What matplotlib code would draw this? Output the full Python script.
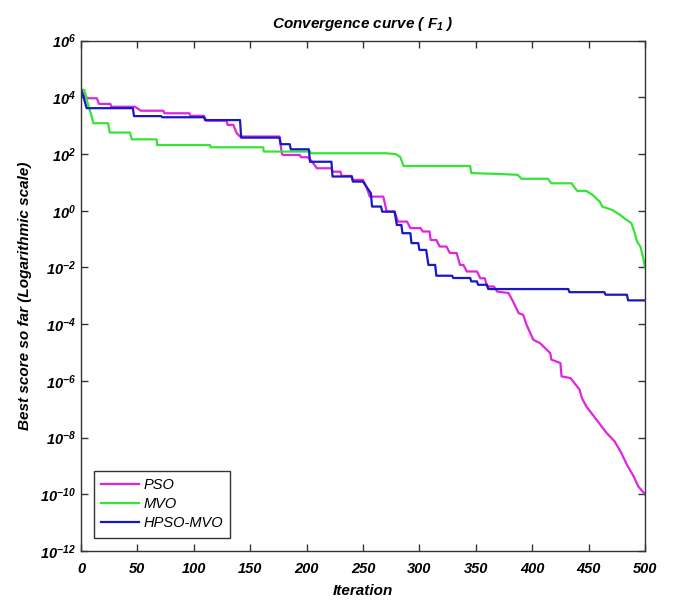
import matplotlib
matplotlib.use("Agg")
import matplotlib.pyplot as plt
import numpy as np
from matplotlib.ticker import FixedLocator, FuncFormatter, NullLocator

# ---------------- data (iteration, log10(best score)) ----------------
pso_iter = [0, 2, 4, 14, 16, 26, 27, 48, 53, 73, 74, 96, 97, 109, 111, 129, 130, 135,
            138, 141, 176, 178, 179, 194, 195, 201, 203, 207, 209, 222, 223, 230, 231,
            240, 241, 250, 253, 256, 268, 271, 278, 281, 289, 292, 301, 303, 309, 310,
            315, 318, 324, 327, 333, 336, 339, 342, 351, 354, 358, 360, 366, 369, 375,
            379, 383, 388, 392, 395, 401, 407, 416, 417, 425, 426, 434, 442, 444, 448,
            457, 466, 473, 479, 484, 490, 494, 500]
pso_log = [4.28, 4.10, 3.97, 3.97, 3.77, 3.77, 3.67, 3.67, 3.53, 3.53, 3.44, 3.44, 3.35,
           3.35, 3.18, 3.18, 3.03, 3.03, 2.74, 2.62, 2.62, 2.03, 1.97, 1.97, 1.89, 1.89,
           1.82, 1.62, 1.50, 1.50, 1.38, 1.38, 1.23, 1.23, 1.09, 1.09, 0.85, 0.50, 0.50,
           -0.03, -0.03, -0.38, -0.38, -0.61, -0.61, -0.73, -0.73, -1.03, -1.03, -1.26,
           -1.26, -1.49, -1.49, -1.91, -1.91, -2.14, -2.14, -2.38, -2.38, -2.67, -2.67,
           -2.85, -2.88, -2.90, -3.20, -3.61, -3.67, -4.02, -4.55, -4.67, -5.02, -5.25,
           -5.37, -5.84, -5.90, -6.31, -6.60, -6.90, -7.37, -7.84, -8.13, -8.54, -8.96,
           -9.37, -9.72, -10.0]

mvo_iter = [0, 3, 6, 9.5, 11, 24, 25.5, 43.5, 45, 67, 67.5, 114.5, 115, 161.5, 162, 203,
            204, 270, 279, 283, 286, 345, 346, 370, 387, 390.5, 414, 417, 435, 437, 440,
            448, 453.5, 460, 462, 471, 478, 483, 488, 491, 493, 496, 498, 500]
mvo_log = [4.28, 4.26, 3.79, 3.32, 3.09, 3.09, 2.76, 2.76, 2.52, 2.52, 2.32, 2.32, 2.24,
           2.24, 2.09, 2.09, 2.03, 2.03, 2.00, 1.90, 1.58, 1.58, 1.33, 1.30, 1.27, 1.13,
           1.13, 0.97, 0.97, 0.85, 0.70, 0.70, 0.56, 0.32, 0.15, 0.03, -0.15, -0.30,
           -0.44, -0.80, -1.09, -1.27, -1.60, -1.97]

hyb_iter = [0, 2, 5, 46, 47, 71, 72, 109, 110, 141, 142, 176, 177, 185, 186, 202, 203,
            222, 223, 240, 241, 250, 253, 257, 258, 266, 267, 278, 280, 284, 285, 292,
            293, 299, 300, 306, 308, 314, 315, 329, 330, 345, 346, 351, 352, 360, 361,
            432, 433, 464, 465, 484, 485, 500]
hyb_log = [4.28, 4.05, 3.62, 3.62, 3.34, 3.34, 3.30, 3.30, 3.20, 3.20, 2.58, 2.58, 2.35,
           2.35, 2.17, 2.17, 1.73, 1.73, 1.21, 1.21, 1.03, 1.03, 0.85, 0.62, 0.15, 0.15,
           -0.03, -0.03, -0.50, -0.50, -0.79, -0.79, -1.14, -1.14, -1.38, -1.38, -1.91,
           -1.91, -2.29, -2.29, -2.37, -2.37, -2.49, -2.49, -2.61, -2.61, -2.76, -2.76,
           -2.87, -2.87, -2.96, -2.96, -3.16, -3.16]

series_names = ["PSO", "MVO", "HPSO-MVO"]
series_colors = ["#e024e0", "#36e436", "#1818c4"]
x_ticks = [0, 50, 100, 150, 200, 250, 300, 350, 400, 450, 500]
y_exponents = [-12, -10, -8, -6, -4, -2, 0, 2, 4, 6]

# ---------------- style ----------------
plt.rcParams["font.family"] = ["Liberation Sans", "DejaVu Sans"]
plt.rcParams["mathtext.fontset"] = "custom"
plt.rcParams["mathtext.rm"] = "Liberation Sans:bold:italic"
plt.rcParams["mathtext.it"] = "Liberation Sans:bold:italic"
plt.rcParams["mathtext.bf"] = "Liberation Sans:bold:italic"

fig = plt.figure(figsize=(6.74, 6.0), dpi=100)
ax = fig.add_axes([81 / 674, 1 - 551 / 600, (645 - 81) / 674, (551 - 40.7) / 600])

data = [(pso_iter, pso_log), (mvo_iter, mvo_log), (hyb_iter, hyb_log)]
for (it, lg), name, col in zip(data, series_names, series_colors):
    ax.plot(it, 10.0 ** np.array(lg), color=col, lw=1.6, label=name)

ax.set_yscale("log")
ax.set_xlim(0, 500)
ax.set_ylim(1e-12, 1e6)
ax.xaxis.set_major_locator(FixedLocator(x_ticks))
ax.yaxis.set_major_locator(FixedLocator([10.0 ** e for e in y_exponents]))
ax.yaxis.set_minor_locator(NullLocator())
ax.xaxis.set_minor_locator(NullLocator())
ax.yaxis.set_major_formatter(
    FuncFormatter(lambda v, p: r"$\mathrm{10^{%d}}$" % int(round(np.log10(v)))))

ax.tick_params(direction="in", top=True, right=True, length=5, width=1,
               colors="#333333", labelcolor="black", labelsize=10.5)
ax.tick_params(axis="x", pad=8)
for lab in ax.get_xticklabels():
    lab.set_fontweight("bold")
    lab.set_fontstyle("italic")
for s in ax.spines.values():
    s.set_color("#333333")
    s.set_linewidth(1.0)

ax.set_title(r"Convergence curve ( $F_1$ )", fontsize=11, fontweight="bold",
             style="italic", pad=9)
ax.set_xlabel("Iteration", fontsize=11, fontweight="bold", style="italic", labelpad=6)
ax.set_ylabel("Best score so far (Logarithmic scale)", fontsize=11, fontweight="bold",
              style="italic", labelpad=6)

leg = ax.legend(loc="lower left", bbox_to_anchor=(0.023, 0.026), borderaxespad=0,
                fancybox=False, edgecolor="#333333", framealpha=1,
                prop={"style": "italic", "size": 10.5}, handlelength=2.6,
                handletextpad=0.3, labelspacing=0.35, borderpad=0.5)
leg.get_frame().set_linewidth(1.0)

fig.savefig("out.png", dpi=100, facecolor="white")
